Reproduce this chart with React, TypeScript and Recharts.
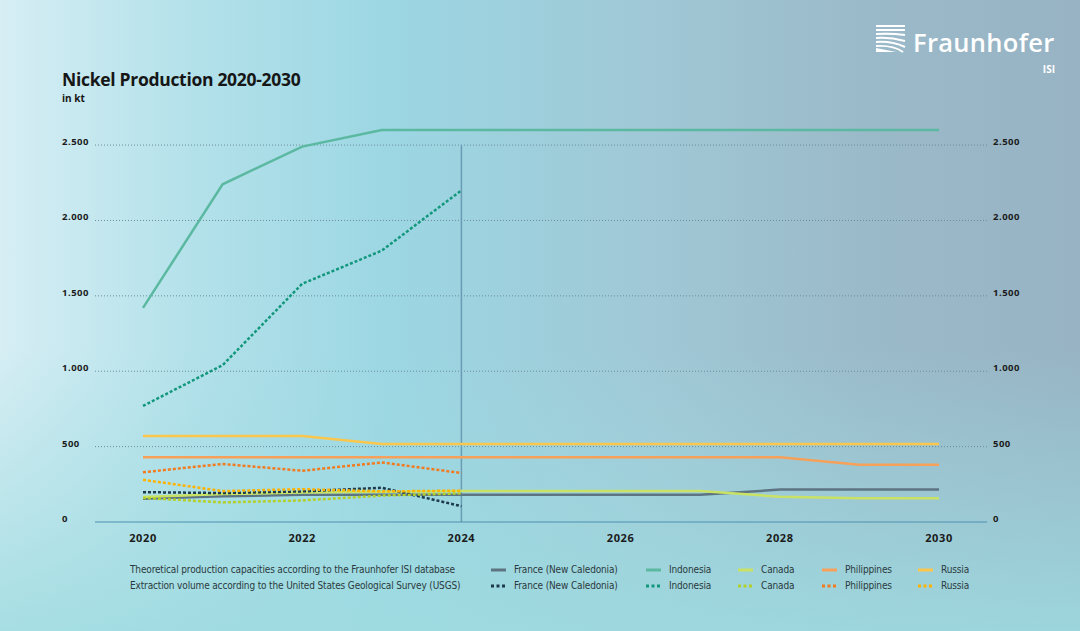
import React from 'react';
import { LineChart, Line, XAxis, YAxis, ReferenceLine } from 'recharts';

const YEARS = [2020, 2021, 2022, 2023, 2024, 2025, 2026, 2027, 2028, 2029, 2030];
const X_TICKS = [2020, 2022, 2024, 2026, 2028, 2030];
const Y_TICKS = [0, 500, 1000, 1500, 2000, 2500];

// theoretical production capacities (Fraunhofer ISI database), kt
const FRANCE_CAP = [155, 170, 180, 180, 180, 180, 180, 180, 215, 215, 215];
const INDONESIA_CAP = [1420, 2240, 2490, 2600, 2600, 2600, 2600, 2600, 2600, 2600, 2600];
const CANADA_CAP = [165, 185, 195, 200, 205, 205, 205, 205, 168, 158, 158];
const PHILIPPINES_CAP = [430, 430, 430, 430, 430, 430, 430, 430, 430, 380, 380];
const RUSSIA_CAP = [570, 570, 570, 518, 518, 518, 518, 518, 518, 518, 518];

// extraction volume (USGS), kt, 2020-2024
const FRANCE_USGS = [198, 192, 203, 227, 105];
const INDONESIA_USGS = [770, 1040, 1580, 1800, 2200];
const CANADA_USGS = [160, 130, 143, 175, 190];
const PHILIPPINES_USGS = [330, 385, 340, 395, 325];
const RUSSIA_USGS = [280, 205, 218, 203, 208];

const CAP_LABEL = 'Theoretical production capacities according to the Fraunhofer ISI database';
const USGS_LABEL = 'Extraction volume according to the United States Geological Survey (USGS)';

const COUNTRIES = ['France (New Caledonia)', 'Indonesia', 'Canada', 'Philippines', 'Russia'];
const CAP_COLORS = ['#5d7482', '#5cb9a1', '#c9e265', '#f6a05a', '#fac64c'];
const USGS_COLORS = ['#1c3a4c', '#12977d', '#b3cf2a', '#f27a1f', '#ffb200'];
const LEGEND_X = [490, 645, 737, 821, 917];

const CAP_VALUES = [FRANCE_CAP, INDONESIA_CAP, CANADA_CAP, PHILIPPINES_CAP, RUSSIA_CAP];
const USGS_VALUES = [FRANCE_USGS, INDONESIA_USGS, CANADA_USGS, PHILIPPINES_USGS, RUSSIA_USGS];

const series = [
  ...COUNTRIES.map((name, i) => ({ key: `cap${i}`, name, color: CAP_COLORS[i], dotted: false, values: CAP_VALUES[i] })),
  ...COUNTRIES.map((name, i) => ({ key: `usgs${i}`, name, color: USGS_COLORS[i], dotted: true, values: USGS_VALUES[i] })),
];

const rows = YEARS.map((year, i) => {
  const row: Record<string, number | null> = { year };
  series.forEach((s) => {
    row[s.key] = i < s.values.length ? s.values[i] : null;
  });
  return row;
});

const FONT = '"Open Sans", "Noto Sans", sans-serif';
const NARROW = '"DejaVu Sans Condensed", "Liberation Sans Narrow", sans-serif';

const fmt = (v: number) => String(v).replace(/\B(?=(\d{3})+(?!\d))/g, '.');

const LeftTick = ({ y, payload }: any) => (
  <text x={62} y={y} textAnchor="start" fontFamily={FONT} fontWeight={700} fontSize={9.5} letterSpacing={0.5} fill="#1b1b1b">
    {fmt(payload.value)}
  </text>
);

const RightTick = ({ y, payload }: any) => (
  <text x={993} y={y} textAnchor="start" fontFamily={FONT} fontWeight={700} fontSize={9.5} letterSpacing={0.5} fill="#1b1b1b">
    {fmt(payload.value)}
  </text>
);

const YearTick = ({ x, payload }: any) => (
  <text x={x} y={542} textAnchor="middle" fontFamily={FONT} fontWeight={700} fontSize={11} letterSpacing={0.6} fill="#1b1b1b">
    {payload.value}
  </text>
);

function LegendRow({ top, label, colors, dotted }: { top: number; label: string; colors: string[]; dotted: boolean }) {
  return (
    <div style={{ position: 'absolute', left: 0, top, width: 1080, height: 16, fontFamily: NARROW, fontSize: 10, letterSpacing: -0.15, color: '#2b3a40' }}>
      <span style={{ position: 'absolute', left: 130, top: 0, whiteSpace: 'nowrap' }}>{label}</span>
      {COUNTRIES.map((name, i) => (
        <span key={name} style={{ position: 'absolute', left: LEGEND_X[i], top: 0, whiteSpace: 'nowrap' }}>
          <svg width={18} height={10} style={{ verticalAlign: 'middle', marginRight: 6 }}>
            <line x1={1} y1={5} x2={16} y2={5} stroke={colors[i]} strokeWidth={3} strokeDasharray={dotted ? '3 2.5' : undefined} />
          </svg>
          {name}
        </span>
      ))}
    </div>
  );
}

function Logo() {
  return (
    <svg width={1080} height={90} style={{ position: 'absolute', left: 0, top: 0 }}>
      <g fill="none" stroke="#ffffff" strokeWidth={2}>
        <line x1={876} y1={26} x2={905} y2={26} />
        <path d="M876 30 L905 30" />
        <path d="M876 34 Q890 33 905 35" />
        <path d="M876 38 Q890 37 905 41" />
        <path d="M876 42 Q892 41 905 47" />
        <path d="M876 46 Q893 45 903 52" />
      </g>
      <polygon points="876,48 876,52 896,52" fill="#ffffff" />
      <text x={913} y={52} fontFamily={FONT} fontWeight={600} fontSize={25.5} letterSpacing={0.3} fill="#ffffff">
        Fraunhofer
      </text>
      <text x={1055} y={73} textAnchor="end" fontFamily={FONT} fontWeight={700} fontSize={10} fill="#ffffff">
        ISI
      </text>
    </svg>
  );
}

export default function App() {
  return (
    <div
      style={{
        position: 'absolute',
        left: 0,
        top: 0,
        width: 1080,
        height: 631,
        overflow: 'hidden',
        background:
          'linear-gradient(180deg, rgba(158,219,224,0) 55%, rgba(158,219,224,0.85) 100%), linear-gradient(90deg, #d6eef4 0%, #b3e1ea 18%, #9cd7e3 36%, #a0c8d6 60%, #9bbac9 80%, #97b3c4 100%)',
      }}
    >
      <Logo />
      <div style={{ position: 'absolute', left: 62, top: 67, fontFamily: FONT, fontWeight: 700, fontSize: 17.5, color: '#161616', letterSpacing: -0.3 }}>
        Nickel Production 2020-2030
      </div>
      <div style={{ position: 'absolute', left: 62, top: 91, fontFamily: FONT, fontWeight: 700, fontSize: 10, color: '#161616' }}>
        in kt
      </div>
      <div style={{ position: 'absolute', left: 0, top: 0 }}>
        <LineChart width={1080} height={631} data={rows} margin={{ top: 130, right: 0, bottom: 79, left: 0 }}>
          <XAxis
            dataKey="year"
            type="number"
            domain={[2020, 2030]}
            ticks={X_TICKS}
            padding={{ left: 48, right: 48 }}
            height={30}
            tickLine={false}
            axisLine={{ stroke: '#4f8fb0', strokeWidth: 1.2 }}
            tick={<YearTick />}
          />
          <YAxis yAxisId="left" orientation="left" width={95} domain={[0, 2600]} ticks={Y_TICKS} axisLine={false} tickLine={false} tick={<LeftTick />} />
          <YAxis yAxisId="right" orientation="right" width={93} domain={[0, 2600]} ticks={Y_TICKS} axisLine={false} tickLine={false} tick={<RightTick />} />
          {Y_TICKS.filter((t) => t > 0).map((t) => (
            <ReferenceLine key={t} yAxisId="left" y={t} stroke="#6b8d9b" strokeDasharray="1 2" />
          ))}
          <ReferenceLine
            yAxisId="left"
            segment={[
              { x: 2024, y: 0 },
              { x: 2024, y: 2500 },
            ]}
            stroke="#6a9db4"
            strokeWidth={1.5}
          />
          {series.map((s) => (
            <Line
              key={s.key}
              yAxisId={s.dotted ? 'right' : 'left'}
              dataKey={s.key}
              name={s.name}
              type="linear"
              stroke={s.color}
              strokeWidth={2.5}
              strokeDasharray={s.dotted ? '3 2' : undefined}
              dot={false}
              activeDot={false}
              isAnimationActive={false}
            />
          ))}
        </LineChart>
      </div>
      <LegendRow top={564} label={CAP_LABEL} colors={CAP_COLORS} dotted={false} />
      <LegendRow top={580} label={USGS_LABEL} colors={USGS_COLORS} dotted />
    </div>
  );
}
